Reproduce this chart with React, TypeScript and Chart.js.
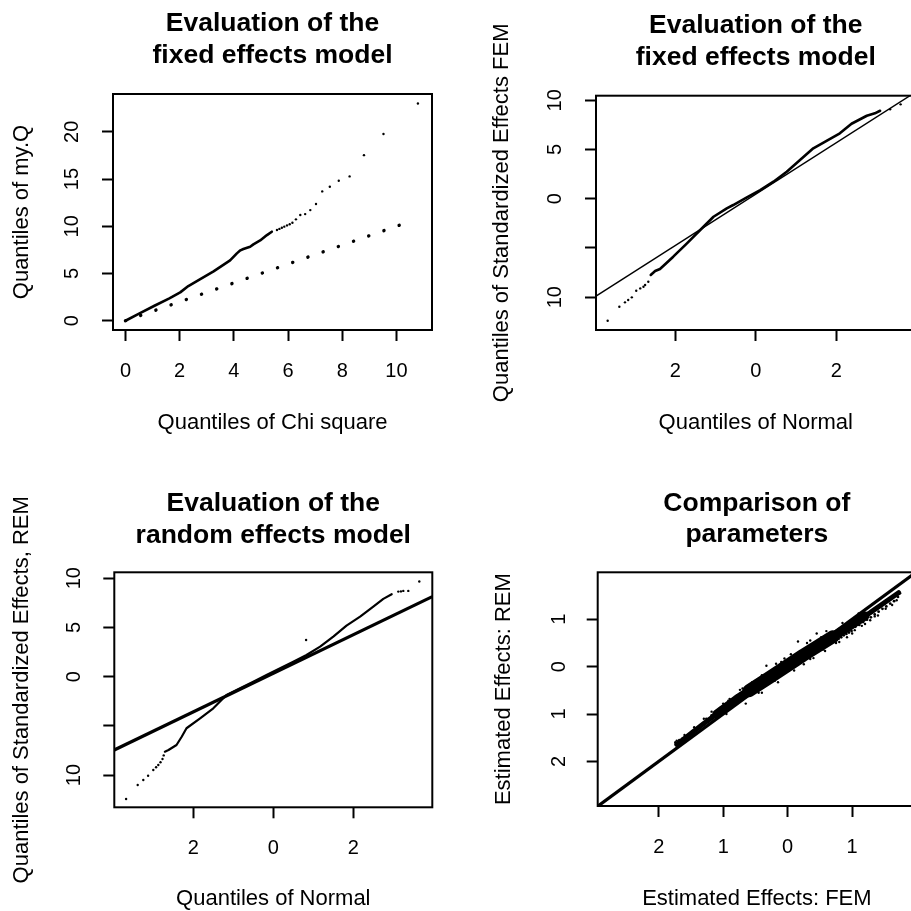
import React, { useEffect, useRef } from 'react';
import { Chart, registerables } from 'chart.js';
Chart.register(...registerables);

const FONT = "'Liberation Sans', Arial, Helvetica, sans-serif";
const CW = 925;
const CH = 925;
const TITLE_SIZE = 26.5;
const AXIS_TITLE_SIZE = 22;
const TICK_SIZE = 20;

// ---------- Panel 1: QQ of my.Q vs chi-square ----------
const chiDenseX = [0, 0.52, 1.07, 1.62, 2.02, 2.32, 2.76, 3.25, 3.86, 4.11, 4.24, 4.35, 4.6, 4.72, 4.97, 5.22, 5.4];
const chiDenseY = [0, 0.78, 1.59, 2.37, 3.0, 3.67, 4.41, 5.23, 6.39, 7.13, 7.45, 7.59, 7.83, 8.08, 8.5, 9.07, 9.42];
const chiSparseX = [5.59, 5.68, 5.77, 5.86, 5.96, 6.06, 6.16, 6.29, 6.45, 6.63, 6.82, 7.03, 7.26, 7.54, 7.87, 8.27, 8.8, 9.52, 10.79];
const chiSparseY = [9.6, 9.72, 9.84, 9.96, 10.09, 10.22, 10.37, 10.73, 11.19, 11.29, 11.71, 12.35, 13.69, 14.18, 14.81, 15.28, 17.53, 19.76, 23.0];
const chiRefX = [0, 10.6];
const chiRefY = [0, 10.6];
const chiXTicks = [0, 2, 4, 6, 8, 10];
const chiXTickLabels = ['0', '2', '4', '6', '8', '10'];
const chiYTicks = [0, 5, 10, 15, 20];
const chiYTickLabels = ['0', '5', '10', '15', '20'];

// ---------- Panel 2: QQ normal, FEM ----------
const femDenseX = [-2.61, -2.5, -2.38, -2.05, -1.71, -1.38, -1.05, -0.72, -0.56, -0.22, 0.11, 0.44, 0.77, 1.1, 1.43, 1.76, 2.09, 2.38, 2.76, 2.96, 3.09];
const femDenseY = [-7.75, -7.35, -7.14, -5.89, -4.53, -3.18, -1.83, -0.98, -0.64, 0.14, 0.88, 1.73, 2.74, 3.93, 5.12, 5.89, 6.65, 7.62, 8.43, 8.68, 8.94];
const femSparseX = [-3.68, -3.39, -3.25, -3.17, -3.08, -2.97, -2.87, -2.79, -2.75, -2.67, 3.34, 3.6];
const femSparseY = [-12.4, -10.98, -10.53, -10.29, -10.02, -9.35, -9.11, -8.95, -8.77, -8.43, 9.09, 9.59];
const femRefX = [-3.97, 3.97];
const femRefY = [-9.89, 10.83];

// ---------- Panel 3: QQ normal, REM ----------
const remDenseX = [-2.71, -2.62, -2.42, -2.29, -2.17, -1.83, -1.5, -1.17, -0.83, -0.5, -0.17, 0.17, 0.5, 0.83, 1.17, 1.5, 1.83, 2.17, 2.5, 2.75, 2.96];
const remDenseY = [-7.62, -7.45, -6.94, -6.1, -5.24, -4.23, -3.21, -1.86, -1.18, -0.51, 0.17, 0.85, 1.52, 2.2, 3.05, 4.07, 5.18, 6.1, 7.11, 7.9, 8.37];
const remSparseX = [-3.68, -3.39, -3.25, -3.13, -3.0, -2.93, -2.875, -2.82, -2.77, -2.74, 0.82, 3.125, 3.19, 3.25, 3.375, 3.65];
const remSparseY = [-12.43, -11.0, -10.5, -10.06, -9.48, -9.2, -8.97, -8.7, -8.36, -8.0, 3.73, 8.64, 8.66, 8.71, 8.71, 9.66];
const remRefX = [-3.975, 3.975];
const remRefY = [-7.45, 8.13];

const normXTicks = [-2, 0, 2];
const normXTickLabels = ['2', '0', '2'];
const stdYTicks = [-10, -5, 0, 5, 10];
const stdYTickLabels = ['10', '', '0', '5', '10'];

// ---------- Panel 4: estimated effects FEM vs REM ----------
const cmpX = [
  -1.74, -1.71, -1.68, -1.66, -1.63, -1.61, -1.58, -1.56, -1.53, -1.51, -1.48, -1.46, -1.43, -1.41, -1.38, -1.36,
  -1.33, -1.31, -1.28, -1.26, -1.23, -1.21, -1.18, -1.16, -1.13, -1.11, -1.08, -1.06, -1.03, -1.01, -0.99, -0.97,
  -0.95, -0.93, -0.91, -0.89, -0.87, -0.85, -0.83, -0.81, -0.79, -0.77, -0.75, -0.73, -0.71, -0.69, -0.67, -0.65,
  -0.63, -0.61, -0.59, -0.57, -0.55, -0.53, -0.51, -0.49, -0.47, -0.45, -0.43, -0.41, -0.39, -0.37, -0.35, -0.33,
  -0.31, -0.29, -0.27, -0.25, -0.23, -0.21, -0.19, -0.17, -0.15, -0.13, -0.11, -0.09, -0.07, -0.05, -0.03, -0.01,
  0.01, 0.03, 0.05, 0.07, 0.09, 0.11, 0.13, 0.15, 0.17, 0.19, 0.21, 0.23, 0.25, 0.27, 0.29, 0.31,
  0.33, 0.35, 0.37, 0.39, 0.41, 0.43, 0.45, 0.47, 0.49, 0.51, 0.53, 0.55, 0.57, 0.59, 0.61, 0.63,
  0.65, 0.67, 0.69, 0.71, 0.73, 0.75, 0.77, 0.79, 0.81, 0.83, 0.85, 0.87, 0.89, 0.91, 0.93, 0.95,
  0.97, 0.99, 1.02, 1.05, 1.08, 1.11, 1.14, 1.17, 1.2, 1.23, 1.26, 1.29, 1.32, 1.35, 1.38, 1.41,
  1.44, 1.47, 1.5, 1.53, 1.56, 1.59, 1.62, 1.65, 1.68, 1.71, 1.74,
];
const cmpY = [
  -1.6, -1.63, -1.55, -1.6, -1.52, -1.57, -1.47, -1.51, -1.44, -1.48, -1.36, -1.42, -1.35, -1.31, -1.3, -1.26,
  -1.24, -1.19, -1.19, -1.1, -1.15, -1.12, -1.03, -1.09, -1.05, -1.0, -1.01, -0.94, -0.97, -0.91, -0.9, -0.84,
  -0.88, -0.83, -0.8, -0.84, -0.75, -0.79, -0.72, -0.76, -0.62, -0.7, -0.64, -0.69, -0.58, -0.65, -0.57, -0.61,
  -0.5, -0.58, -0.47, -0.55, -0.44, -0.52, -0.4, -0.47, -0.36, -0.44, -0.33, -0.42, -0.3, -0.37, -0.24, -0.34,
  -0.22, -0.31, -0.15, -0.26, -0.13, -0.24, -0.1, -0.2, -0.05, -0.17, -0.02, -0.14, 0.03, -0.1, 0.06, -0.06,
  0.09, -0.03, 0.12, 0.01, 0.16, 0.05, 0.19, 0.08, 0.22, 0.11, 0.27, 0.15, 0.3, 0.18, 0.34, 0.21,
  0.37, 0.25, 0.4, 0.28, 0.44, 0.31, 0.46, 0.34, 0.49, 0.38, 0.52, 0.41, 0.55, 0.44, 0.58, 0.47,
  0.61, 0.5, 0.64, 0.53, 0.66, 0.56, 0.69, 0.59, 0.72, 0.62, 0.74, 0.66, 0.77, 0.69, 0.8, 0.72,
  0.83, 0.75, 0.87, 0.84, 0.94, 0.88, 0.99, 0.94, 1.05, 0.99, 1.1, 1.04, 1.16, 1.1, 1.22, 1.16,
  1.27, 1.22, 1.33, 1.27, 1.39, 1.33, 1.45, 1.38, 1.5, 1.47, 1.55,
];
const cmpOutX = [
  -1.72, -1.6, -1.45, -1.3, -1.18, -1.05, -0.92, -0.74, -0.62, -0.5, -0.33, -0.18, -0.05, 0.16, 0.3, 0.45, 0.52,
  0.25, 0.4, 0.58, 0.75, 0.92, 1.04, 1.15, 1.28, 1.4, 1.52, 1.62, 1.69, -0.45, -0.2,
  -1.0, -0.9, -0.7, -0.55, -0.4, -0.1, 0.05, 0.35, 0.6, 0.85, 1.1,
  -0.95, -0.65, -0.4, -0.15, 0.1, 0.35, 0.55, 0.8, 1.0, 1.2, 1.35,
];
const cmpOutY = [
  -1.56, -1.44, -1.28, -1.1, -0.95, -0.87, -0.72, -0.49, -0.41, -0.3, 0.02, 0.06, 0.17, 0.53, 0.5, 0.7, 0.62,
  0.05, 0.18, 0.33, 0.5, 0.62, 0.77, 0.86, 0.98, 1.08, 1.22, 1.3, 1.4, -0.55, -0.3,
  -0.78, -0.68, -0.46, -0.33, -0.18, 0.1, 0.26, 0.55, 0.75, 0.92, 1.12,
  -1.0, -0.78, -0.55, -0.33, -0.08, 0.16, 0.36, 0.52, 0.7, 0.9, 1.06,
];
// dense core of the cloud (overplotted points)
const cmpCoreX = [-1.72, -1.3, -0.8, -0.27, 0.24, 0.76, 1.28, 1.72];
const cmpCoreY = [-1.64, -1.2, -0.7, -0.22, 0.24, 0.68, 1.14, 1.56];
const cmpMidX = [-1.1, -0.8, -0.27, 0.24, 0.76, 1.2];
const cmpMidY = [-1.0, -0.7, -0.22, 0.24, 0.68, 1.07];
const cmpInnerX = [-0.6, -0.27, 0.24, 0.7];
const cmpInnerY = [-0.51, -0.22, 0.24, 0.63];
const cmpRefX = [-2.946, 1.99];
const cmpRefY = [-2.946, 1.99];
const cmpTicks = [-2, -1, 0, 1];
const cmpTickLabels = ['2', '1', '0', '1'];

// ---------- helpers ----------
const pts = (xs: number[], ys: number[]) => xs.map((x, i) => ({ x, y: ys[i] }));
const lineDs = (xs: number[], ys: number[], w: number, extra: any = {}) => ({
  data: pts(xs, ys), showLine: true, borderColor: '#000', backgroundColor: '#000',
  borderWidth: w, pointRadius: 0, fill: false, tension: 0, clip: 0, ...extra,
});
const dotDs = (xs: number[], ys: number[], r: number) => ({
  data: pts(xs, ys), showLine: false, pointRadius: r, pointBorderWidth: 0,
  pointBackgroundColor: '#000', borderColor: '#000', backgroundColor: '#000', clip: 0,
});
const roundCap = { borderCapStyle: 'round', borderJoinStyle: 'round' };

const framePlugin = {
  id: 'frame',
  afterDraw(chart: any) {
    const { ctx, chartArea: a } = chart;
    ctx.save();
    ctx.strokeStyle = '#000';
    ctx.lineWidth = 2;
    ctx.strokeRect(a.left, a.top, a.right - a.left, a.bottom - a.top);
    ctx.restore();
  },
};

type Panel = {
  title: string[]; xTitle: string; yTitle: string;
  box: { l: number; r: number; t: number; b: number };
  xMin: number; xMax: number; yMin: number; yMax: number;
  xTicks: number[]; xLabels: string[]; yTicks: number[]; yLabels: string[];
  titleY: number; xTitleY: number; yTitleX: number; yTickPad: number;
  datasets: any[];
};

const panels: Panel[] = [
  {
    title: ['Evaluation of the', 'fixed effects model'],
    xTitle: 'Quantiles of Chi square', yTitle: 'Quantiles of my.Q',
    box: { l: 113, r: 432, t: 94, b: 330 },
    xMin: -0.46, xMax: 11.31, yMin: -0.98, yMax: 24.0,
    xTicks: chiXTicks, xLabels: chiXTickLabels, yTicks: chiYTicks, yLabels: chiYTickLabels,
    titleY: 24, xTitleY: 422.5, yTitleX: 21.5, yTickPad: 18,
    datasets: [
      lineDs(chiRefX, chiRefY, 3.4, { borderDash: [0.1, 16], borderCapStyle: 'round' }),
      lineDs(chiDenseX, chiDenseY, 2.6, roundCap),
      dotDs(chiSparseX, chiSparseY, 1.2),
    ],
  },
  {
    title: ['Evaluation of the', 'fixed effects model'],
    xTitle: 'Quantiles of Normal', yTitle: 'Quantiles of Standardized Effects FEM',
    box: { l: 596, r: 915.5, t: 95.7, b: 330 },
    xMin: -3.97, xMax: 3.97, yMin: -13.34, yMax: 10.47,
    xTicks: normXTicks, xLabels: normXTickLabels, yTicks: stdYTicks, yLabels: stdYTickLabels,
    titleY: 25.5, xTitleY: 422.5, yTitleX: 502, yTickPad: 18,
    datasets: [
      lineDs(femRefX, femRefY, 1.4),
      lineDs(femDenseX, femDenseY, 2.6, roundCap),
      dotDs(femSparseX, femSparseY, 1.2),
    ],
  },
  {
    title: ['Evaluation of the', 'random effects model'],
    xTitle: 'Quantiles of Normal', yTitle: 'Quantiles of Standardized Effects, REM',
    box: { l: 114.3, r: 432.3, t: 572.3, b: 807.3 },
    xMin: -3.975, xMax: 3.975, yMin: -13.27, yMax: 10.6,
    xTicks: normXTicks, xLabels: normXTickLabels, yTicks: stdYTicks, yLabels: stdYTickLabels,
    titleY: 503.8, xTitleY: 899, yTitleX: 22, yTickPad: 18,
    datasets: [
      lineDs(remRefX, remRefY, 3.2),
      lineDs(remDenseX, remDenseY, 2.2, roundCap),
      dotDs(remSparseX, remSparseY, 1.2),
    ],
  },
  {
    title: ['Comparison of', 'parameters'],
    xTitle: 'Estimated Effects: FEM', yTitle: 'Estimated Effects: REM',
    box: { l: 597.7, r: 916, t: 572.3, b: 806 },
    xMin: -2.946, xMax: 1.99, yMin: -2.94, yMax: 1.99,
    xTicks: cmpTicks, xLabels: cmpTickLabels, yTicks: cmpTicks, yLabels: cmpTickLabels,
    titleY: 503.2, xTitleY: 899, yTitleX: 504, yTickPad: 22,
    datasets: [
      lineDs(cmpRefX, cmpRefY, 3.2),
      lineDs(cmpCoreX, cmpCoreY, 5, roundCap),
      lineDs(cmpMidX, cmpMidY, 9, roundCap),
      lineDs(cmpInnerX, cmpInnerY, 13, roundCap),
      dotDs(cmpX, cmpY, 1.4),
      dotDs(cmpOutX, cmpOutY, 1.2),
    ],
  },
];

function makeConfig(p: Panel): any {
  const titleLH = TITLE_SIZE * 1.2;
  const axLH = AXIS_TITLE_SIZE * 1.2;
  const padTop = p.titleY - titleLH / 2;
  const titlePadBottom = p.box.t - padTop - 2 * titleLH;
  const yScaleLeft = p.yTitleX - axLH / 2;
  const yWidth = p.box.l - yScaleLeft;
  const xScaleBottom = p.xTitleY + axLH / 2;
  const xHeight = xScaleBottom - p.box.b;
  const gridOpts = {
    display: true, drawOnChartArea: false, drawTicks: true,
    tickLength: 11, tickWidth: 2, tickColor: '#000',
  };
  return {
    type: 'scatter',
    data: { datasets: p.datasets },
    options: {
      responsive: false, animation: false, devicePixelRatio: 1, events: [],
      layout: { padding: { left: yScaleLeft, top: padTop, right: CW - p.box.r, bottom: CH - xScaleBottom } },
      plugins: {
        legend: { display: false },
        tooltip: { enabled: false },
        title: {
          display: true, text: p.title, fullSize: false, position: 'top', color: '#000',
          font: { family: FONT, size: TITLE_SIZE, weight: 'bold', lineHeight: 1.2 },
          padding: { top: 0, bottom: titlePadBottom },
        },
      },
      scales: {
        x: {
          type: 'linear', position: 'bottom', min: p.xMin, max: p.xMax,
          afterBuildTicks: (s: any) => { s.ticks = p.xTicks.map((v) => ({ value: v })); },
          afterFit: (s: any) => { s.height = xHeight; },
          ticks: {
            callback: (_v: any, i: number) => p.xLabels[i], color: '#000',
            font: { family: FONT, size: TICK_SIZE, lineHeight: 1.2 }, padding: 18,
            maxRotation: 0, minRotation: 0, autoSkip: false,
          },
          grid: gridOpts,
          border: { display: false },
          title: { display: true, text: p.xTitle, color: '#000', font: { family: FONT, size: AXIS_TITLE_SIZE, lineHeight: 1.2 }, padding: 0 },
        },
        y: {
          type: 'linear', position: 'left', min: p.yMin, max: p.yMax,
          afterBuildTicks: (s: any) => { s.ticks = p.yTicks.map((v) => ({ value: v })); },
          afterFit: (s: any) => { s.width = yWidth; },
          ticks: {
            callback: (_v: any, i: number) => p.yLabels[i], color: '#000',
            font: { family: FONT, size: TICK_SIZE, lineHeight: 1.2 }, padding: p.yTickPad,
            minRotation: 90, maxRotation: 90, crossAlign: 'center', autoSkip: false,
          },
          grid: gridOpts,
          border: { display: false },
          title: { display: true, text: p.yTitle, color: '#000', font: { family: FONT, size: AXIS_TITLE_SIZE, lineHeight: 1.2 }, padding: 0 },
        },
      },
    },
    plugins: [framePlugin],
  };
}

function PanelCanvas({ panel }: { panel: Panel }) {
  const ref = useRef<HTMLCanvasElement | null>(null);
  useEffect(() => {
    if (!ref.current) return;
    const chart = new Chart(ref.current, makeConfig(panel));
    return () => chart.destroy();
  }, [panel]);
  return (
    <canvas
      ref={ref}
      width={CW}
      height={CH}
      style={{ position: 'absolute', left: 0, top: 0, width: CW, height: CH }}
    />
  );
}

export default function App() {
  return (
    <div style={{ position: 'fixed', left: 0, top: 0, width: 911, height: 911, overflow: 'hidden', background: '#fff' }}>
      {panels.map((p, i) => (
        <PanelCanvas key={i} panel={p} />
      ))}
    </div>
  );
}
